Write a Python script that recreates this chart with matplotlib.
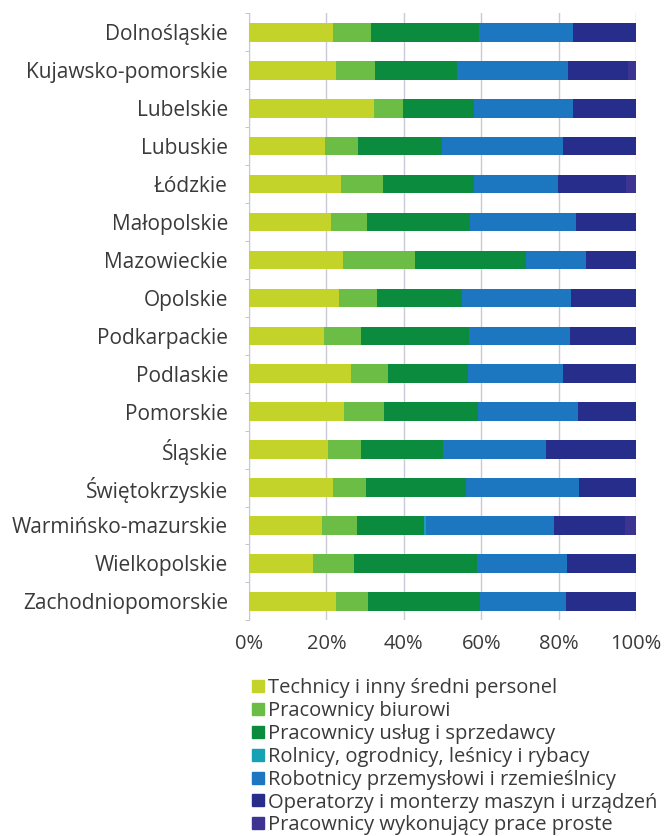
import matplotlib
matplotlib.use("Agg")
import matplotlib.pyplot as plt
from matplotlib.lines import Line2D
import numpy as np

plt.rcParams['font.family'] = ['Open Sans', 'DejaVu Sans']

regions = ["Dolnośląskie", "Kujawsko-pomorskie", "Lubelskie", "Lubuskie", "Łódzkie",
           "Małopolskie", "Mazowieckie", "Opolskie", "Podkarpackie", "Podlaskie",
           "Pomorskie", "Śląskie", "Świętokrzyskie", "Warmińsko-mazurskie",
           "Wielkopolskie", "Zachodniopomorskie"]

categories = ["Technicy i inny średni personel",
              "Pracownicy biurowi",
              "Pracownicy usług i sprzedawcy",
              "Rolnicy, ogrodnicy, leśnicy i rybacy",
              "Robotnicy przemysłowi i rzemieślnicy",
              "Operatorzy i monterzy maszyn i urządzeń",
              "Pracownicy wykonujący prace proste"]

technicy    = [21.6, 22.4, 32.4, 19.7, 23.9, 21.1, 24.4, 23.3, 19.4, 26.4, 24.5, 20.5, 21.6, 18.9, 16.5, 22.5]
biurowi     = [ 9.9, 10.2,  7.5,  8.6, 10.8,  9.3, 18.5,  9.7,  9.5,  9.4, 10.5,  8.4,  8.6,  9.1, 10.6,  8.2]
uslugi      = [27.8, 21.1, 18.1, 21.5, 23.3, 26.7, 28.6, 22.0, 28.0, 20.9, 24.1, 21.1, 25.9, 17.3, 31.7, 29.0]
rolnicy     = [ 0.0,  0.0,  0.0,  0.0,  0.0,  0.0,  0.0,  0.0,  0.0,  0.0,  0.0,  0.0,  0.0,  0.3,  0.0,  0.0]
robotnicy   = [24.5, 28.6, 25.6, 31.2, 21.8, 27.4, 15.6, 28.2, 26.0, 24.5, 25.8, 26.7, 29.0, 33.3, 23.3, 22.1]
operatorzy  = [16.2, 15.7, 16.4, 19.0, 17.6, 15.5, 12.9, 16.8, 17.1, 18.8, 15.1, 23.3, 14.9, 18.3, 17.9, 18.2]
proste      = [ 0.0,  2.0,  0.0,  0.0,  2.6,  0.0,  0.0,  0.0,  0.0,  0.0,  0.0,  0.0,  0.0,  2.8,  0.0,  0.0]

series = [technicy, biurowi, uslugi, rolnicy, robotnicy, operatorzy, proste]
colors = ["#c3d32a", "#6cbd45", "#0b8b3e", "#17a1b5", "#1c76c0", "#272d8b", "#3d3491"]

fig = plt.figure(figsize=(6.69, 8.36), dpi=100)
ax = fig.add_axes([0.372, 0.258, 0.579, 0.726])

y = np.arange(len(regions))
left = np.zeros(len(regions))
for vals, col, lab in zip(series, colors, categories):
    v = np.array(vals)
    ax.barh(y, v, left=left, height=0.49, color=col, label=lab, zorder=3, linewidth=0)
    left += v

ax.set_xlim(0, 100)
ax.set_ylim(len(regions) - 0.5, -0.5)
ax.set_yticks(y)
ax.set_yticklabels(regions, fontsize=15, color="#3a3a3a")
ax.set_yticks(np.arange(-0.5, len(regions), 1), minor=True)
ax.tick_params(axis='y', which='major', length=0, pad=15)
ax.tick_params(axis='y', which='minor', length=3, color="#b8b8c8")

ax.set_xticks([0, 20, 40, 60, 80, 100])
ax.set_xticklabels(["0%", "20%", "40%", "60%", "80%", "100%"], fontsize=14.5, color="#3a3a3a")
ax.tick_params(axis='x', length=0, pad=10)
ax.grid(axis='x', color="#c9c9d8", linewidth=1.0, zorder=0)

for s in ["top", "right", "bottom"]:
    ax.spines[s].set_visible(False)
ax.spines["left"].set_color("#c9c9d8")

handles = [Line2D([0], [0], marker='s', linestyle='none', markersize=8.5,
                  markerfacecolor=c, markeredgecolor=c) for c in colors]
fig.legend(handles, categories, loc='upper left', bbox_to_anchor=(0.374, 0.1885),
           frameon=False, fontsize=14.5, handletextpad=0.1, labelspacing=0.14,
           handlelength=0.8, borderaxespad=0, borderpad=0, labelcolor="#3a3a3a")

fig.savefig("out.png", dpi=100)
